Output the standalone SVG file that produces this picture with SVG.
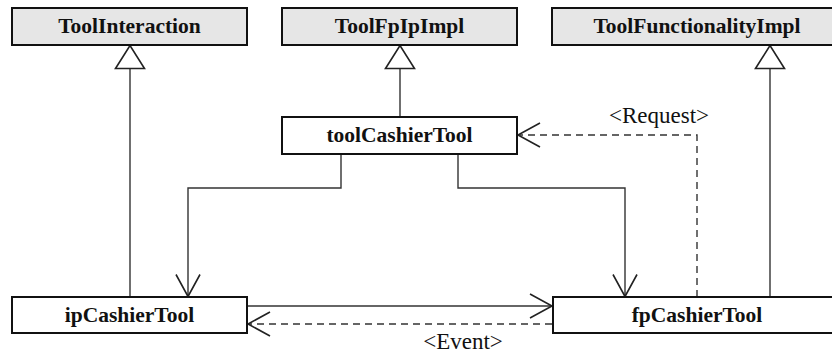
<svg xmlns="http://www.w3.org/2000/svg" width="832" height="354" viewBox="0 0 832 354">
  <style>
    .box { stroke: #111; stroke-width: 2; }
    .iface { fill: #e6e6e6; }
    .cls { fill: #fff; }
    .name { font-family: "Liberation Serif", "Times New Roman", serif; font-weight: bold; font-size: 21.5px; text-anchor: middle; fill: #111; }
    .lbl { font-family: "Liberation Serif", "Times New Roman", serif; font-size: 23px; text-anchor: middle; fill: #111; }
    .line { fill: none; stroke: #333; stroke-width: 1.4; }
    .dash { stroke-dasharray: 7 5; }
  </style>
  <defs>
    <marker id="open" viewBox="0 0 24 26" refX="22" refY="13" markerWidth="24" markerHeight="26" markerUnits="userSpaceOnUse" orient="auto" overflow="visible">
      <path d="M0,1 L22,13 L0,25" fill="none" stroke="#222" stroke-width="1.6"/>
    </marker>
    <marker id="inherit" viewBox="0 0 24 31" refX="23" refY="15.5" markerWidth="24" markerHeight="31" markerUnits="userSpaceOnUse" orient="auto" overflow="visible">
      <path d="M0,1 L23,15.5 L0,30 Z" fill="#fff" stroke="#222" stroke-width="1.6"/>
    </marker>
  </defs>

  <!-- connectors -->
  <g id="connectors">
    <!-- generalisations -->
    <path class="line" d="M130,297 V45.5" marker-end="url(#inherit)"/>
    <path class="line" d="M400,117 V45.5" marker-end="url(#inherit)"/>
    <path class="line" d="M770,297 V45.5" marker-end="url(#inherit)"/>
    <!-- toolCashierTool to the two tools -->
    <path class="line" d="M341,154 V188 H188 V296.5" marker-end="url(#open)"/>
    <path class="line" d="M458,154 V188 H625 V296.5" marker-end="url(#open)"/>
    <!-- request -->
    <path class="line dash" d="M697,297 V135 H518" marker-end="url(#open)"/>
    <!-- ip to fp -->
    <path class="line" d="M248,306 H552" marker-end="url(#open)"/>
    <!-- event -->
    <path class="line dash" d="M552,324 H248" marker-end="url(#open)"/>
    <text class="lbl" x="659" y="123">&lt;Request&gt;</text>
    <text class="lbl" x="463" y="349">&lt;Event&gt;</text>
  </g>

  <g id="ToolInteraction">
    <rect class="box iface" x="12" y="8" width="235" height="37"/>
    <text class="name" x="129.5" y="33">ToolInteraction</text>
  </g>
  <g id="ToolFpIpImpl">
    <rect class="box iface" x="282" y="8" width="235" height="37"/>
    <text class="name" x="399.5" y="33">ToolFpIpImpl</text>
  </g>
  <g id="ToolFunctionalityImpl">
    <rect class="box iface" x="552" y="8" width="290" height="37"/>
    <text class="name" x="697" y="33">ToolFunctionalityImpl</text>
  </g>
  <g id="toolCashierTool">
    <rect class="box cls" x="282" y="117" width="235" height="37"/>
    <text class="name" x="399.5" y="142">toolCashierTool</text>
  </g>
  <g id="ipCashierTool">
    <rect class="box cls" x="12" y="297" width="235" height="36"/>
    <text class="name" x="129.5" y="322">ipCashierTool</text>
  </g>
  <g id="fpCashierTool">
    <rect class="box cls" x="553" y="297" width="290" height="36"/>
    <text class="name" x="697" y="322">fpCashierTool</text>
  </g>
</svg>
